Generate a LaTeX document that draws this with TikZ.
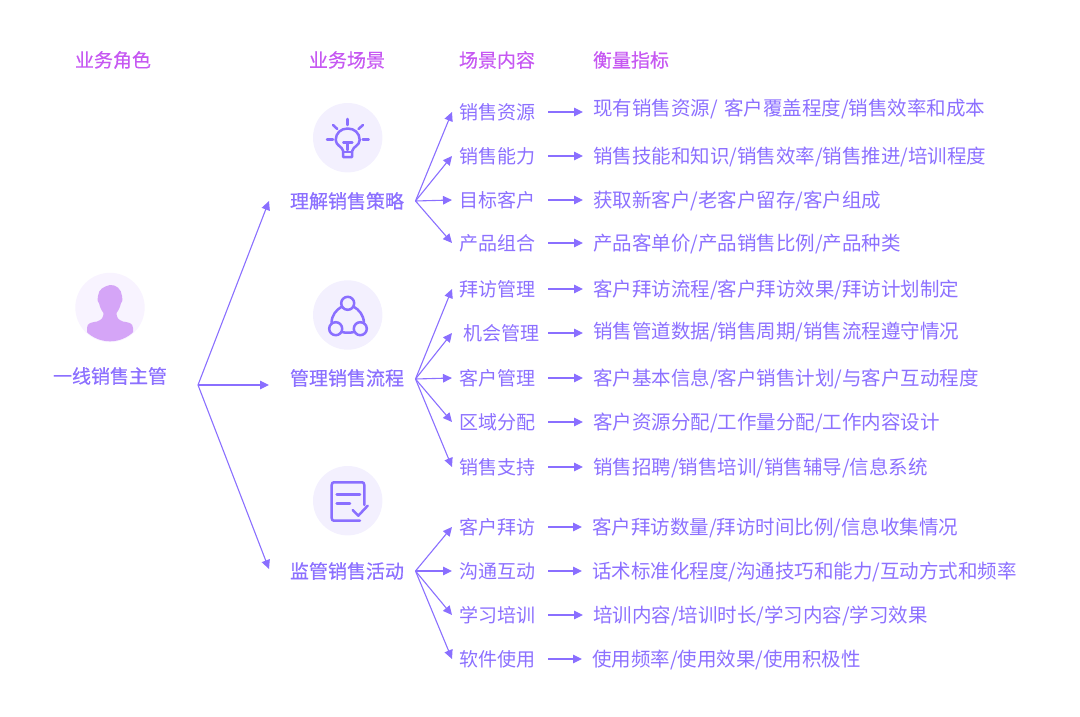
\documentclass[tikz,border=0pt]{standalone}
\usepackage{fontspec}
\usepackage{tikz}
\usetikzlibrary{positioning,arrows.meta}
\setmainfont{Noto Sans CJK SC}
\newfontfamily\titlefont[FakeBold=0.35]{Noto Sans CJK SC}
\newfontfamily\rolefont[FakeBold=0.55]{Noto Sans CJK SC}
\definecolor{arrowpurple}{HTML}{8A6FFF}
\definecolor{textpurple}{HTML}{8C70FF}
\definecolor{titlepink}{HTML}{C658F2}
\definecolor{iconback}{HTML}{F3F0FE}
\definecolor{personback}{HTML}{F8F3FF}
\definecolor{personfill}{HTML}{D5A5F7}
\begin{document}
\begin{tikzpicture}[x=1pt,y=-1pt,font=\fontsize{19pt}{19pt}\selectfont,
  -{Triangle[length=9pt,width=8.5pt]},arrowpurple,line width=1.1pt]
  \tikzstyle{title}=[text=titlepink,inner sep=0pt,font=\fontsize{19pt}{19pt}\titlefont]
  \tikzstyle{role}=[text=textpurple,inner sep=0pt,font=\fontsize{19pt}{19pt}\rolefont]
  \tikzstyle{item}=[text=textpurple,anchor=west,inner sep=0pt,outer xsep=7pt,text height=17pt,text depth=2pt]
  \tikzstyle{metric}=[text=textpurple,anchor=west,inner sep=0pt,outer xsep=10pt,text height=17pt,text depth=2pt,font=\fontsize{19.5pt}{19.5pt}\selectfont]
  \tikzstyle{glyph}=[draw=arrowpurple,line width=2.5pt,line cap=round,line join=round,-]
  \useasboundingbox (0,0) rectangle (1080,717);

  \node[title] (T_1) at (113,60) {业务角色};
  \node[title] (T_2) at (347,60) {业务场景};
  \node[title] (T_3) at (497,60) {场景内容};
  \node[title] (T_4) at (631,60) {衡量指标};

  % person
  \fill[personback,-] (110,307.5) circle (34.7);
  \begin{scope}
    \clip (110,307.5) circle (33.8);
    \fill[personfill,-] (110,285) .. controls (116,284.5) and (121.5,289) .. (122,296)
      .. controls (123,298) and (122.5,302) .. (121,303) .. controls (120,308) and (118,311) .. (116.5,313)
      .. controls (116.5,317) and (118,320) .. (123,321.5) .. controls (128,322.5) and (133,322.5) .. (133,328)
      -- (133,345) -- (87,345) -- (87,328) .. controls (87,322.5) and (92,322.5) .. (97,321.5)
      .. controls (102,320) and (103.5,317) .. (103.5,313) .. controls (102,311) and (100,308) .. (99,303)
      .. controls (97.5,302) and (97,298) .. (98,296) .. controls (98.5,289) and (104,286.5) .. (110,285) -- cycle;
  \end{scope}
  \node[role] (R) at (110,376) {一线销售主管};
  \coordinate (R_fan) at (198,385);

  % scenes
  \fill[iconback,-] (347.7,137.7) circle (34.7);
  \draw[glyph] (347.7,140) ++(-4.5,11) .. controls (342,146) and (336,146) .. (335.7,140)
    .. controls (335.7,133) and (341,128.5) .. (347.7,128.5) .. controls (354.4,128.5) and (359.7,133) .. (359.7,140)
    .. controls (359.4,146) and (353.4,146) .. (352.2,151) -- (352.2,157) -- (343.2,157) -- cycle;
  \draw[glyph] (343.2,152) -- (352.2,152);
  \draw[glyph] (343.3,142.3) -- (352.3,142.3);
  \draw[glyph] (347.7,142.3) -- (347.7,150);
  \draw[glyph] (347.7,119) -- (347.7,125);
  \draw[glyph] (327,139.7) -- (333,139.7);
  \draw[glyph] (362.7,139.7) -- (368.7,139.7);
  \draw[glyph] (333,125) -- (337.3,129);
  \draw[glyph] (363,125) -- (358.5,129);
  \node[role] (S_1) at (347,201) {理解销售策略};
  \coordinate (S_1in) at (269,201);
  \coordinate (S_1fan) at (415.5,201);

  \fill[iconback,-] (347.7,315) circle (34.7);
  \draw[glyph] (347.7,303.3) circle (6.5);
  \draw[glyph] (335.7,328.7) circle (6.5);
  \draw[glyph] (360.3,328.7) circle (6.5);
  \draw[glyph] (342,306.5) .. controls (336,310) and (332,315) .. (331.5,322.5);
  \draw[glyph] (353.4,306.5) .. controls (359.4,310) and (363.4,315) .. (364,322.5);
  \draw[glyph] (342,332) .. controls (345.5,333) and (350,333) .. (354,332);
  \node[role] (S_2) at (347,378) {管理销售流程};
  \coordinate (S_2in) at (269,385);
  \coordinate (S_2fan) at (415.5,379);

  \fill[iconback,-] (347.7,500.7) circle (34.7);
  \draw[glyph] (364.3,505) -- (364.3,485) .. controls (364.3,483) and (363.3,482.3) .. (362,482.3)
    -- (334,482.3) .. controls (332.7,482.3) and (331.7,483) .. (331.7,485)
    -- (331.7,518) .. controls (331.7,520) and (332.7,520.7) .. (334,520.7) -- (360,520.7);
  \draw[glyph] (336.7,494.3) -- (360,494.3);
  \draw[glyph] (336.7,503.7) -- (350,503.7);
  \draw[glyph] (352.7,510) -- (358.3,515.7) -- (367.7,505.7);
  \node[role] (S_3) at (347,571) {监管销售活动};
  \coordinate (S_3in) at (269,569);
  \coordinate (S_3fan) at (415.5,571);

  \draw (R_fan) -- (S_1in);
  \draw (R_fan) -- (S_2in);
  \draw (R_fan) -- (S_3in);

  % first group
  \node[item] (I_1) at (452,112) {销售资源};
  \node[item] (I_2) at (452,156) {销售能力};
  \node[item] (I_3) at (452,200) {目标客户};
  \node[item] (I_4) at (452,243) {产品组合};
  \node[metric] (M_1) at (583,108) {现有销售资源/\hspace{2pt} 客户覆盖程度/销售效率和成本};
  \node[metric] (M_2) at (583,156) {销售技能和知识/销售效率/销售推进/培训程度};
  \node[metric] (M_3) at (583,200) {获取新客户/老客户留存/客户组成};
  \node[metric] (M_4) at (583,243) {产品客单价/产品销售比例/产品种类};

  % second group
  \node[item] (I_5) at (452,289) {拜访管理};
  \node[item] (I_6) at (456,333) {机会管理};
  \node[item] (I_7) at (452,378) {客户管理};
  \node[item] (I_8) at (452,422) {区域分配};
  \node[item] (I_9) at (452,467) {销售支持};
  \node[metric] (M_5) at (583,289) {客户拜访流程/客户拜访效果/拜访计划制定};
  \node[metric] (M_6) at (583,331) {销售管道数据/销售周期/销售流程遵守情况};
  \node[metric] (M_7) at (583,378) {客户基本信息/客户销售计划/与客户互动程度};
  \node[metric] (M_8) at (583,422) {客户资源分配/工作量分配/工作内容设计};
  \node[metric] (M_9) at (583,467) {销售招聘/销售培训/销售辅导/信息系统};

  % third group
  \node[item] (I_10) at (452,527) {客户拜访};
  \node[item] (I_11) at (452,571) {沟通互动};
  \node[item] (I_12) at (452,615) {学习培训};
  \node[item] (I_13) at (452,659) {软件使用};
  \node[metric] (M_10) at (582,527) {客户拜访数量/拜访时间比例/信息收集情况};
  \node[metric] (M_11) at (582,571) {话术标准化程度/沟通技巧和能力/互动方式和频率};
  \node[metric] (M_12) at (583,615) {培训内容/培训时长/学习内容/学习效果};
  \node[metric] (M_13) at (582,659) {使用频率/使用效果/使用积极性};

  \draw (S_1fan) -- (I_1.west);
  \draw (S_1fan) -- (I_2.west);
  \draw (S_1fan) -- (I_3.west);
  \draw (S_1fan) -- (I_4.west);
  \draw (S_2fan) -- (I_5.west);
  \draw (S_2fan) -- (I_6.west -| I_5.west);
  \draw (S_2fan) -- (I_7.west);
  \draw (S_2fan) -- (I_8.west);
  \draw (S_2fan) -- (I_9.west);
  \draw (S_3fan) -- (I_10.west);
  \draw (S_3fan) -- (I_11.west);
  \draw (S_3fan) -- (I_12.west);
  \draw (S_3fan) -- (I_13.west);

  \tikzset{shorten <=6pt}
  \draw (I_1.east) -- (I_1.east -| M_2.west);
  \draw (I_2.east) -- (M_2.west);
  \draw (I_3.east) -- (M_3.west);
  \draw (I_4.east) -- (M_4.west);
  \draw (I_5.east) -- (M_5.west);
  \draw[shorten <=2pt] (I_6.east) -- (I_6.east -| M_5.west);
  \draw (I_7.east) -- (M_7.west);
  \draw (I_8.east) -- (M_8.west);
  \draw (I_9.east) -- (M_9.west);
  \draw (I_10.east) -- (M_10.west);
  \draw (I_11.east) -- (M_11.west);
  \draw (I_12.east) -- (M_12.west);
  \draw (I_13.east) -- (M_13.west);
\end{tikzpicture}
\end{document}
